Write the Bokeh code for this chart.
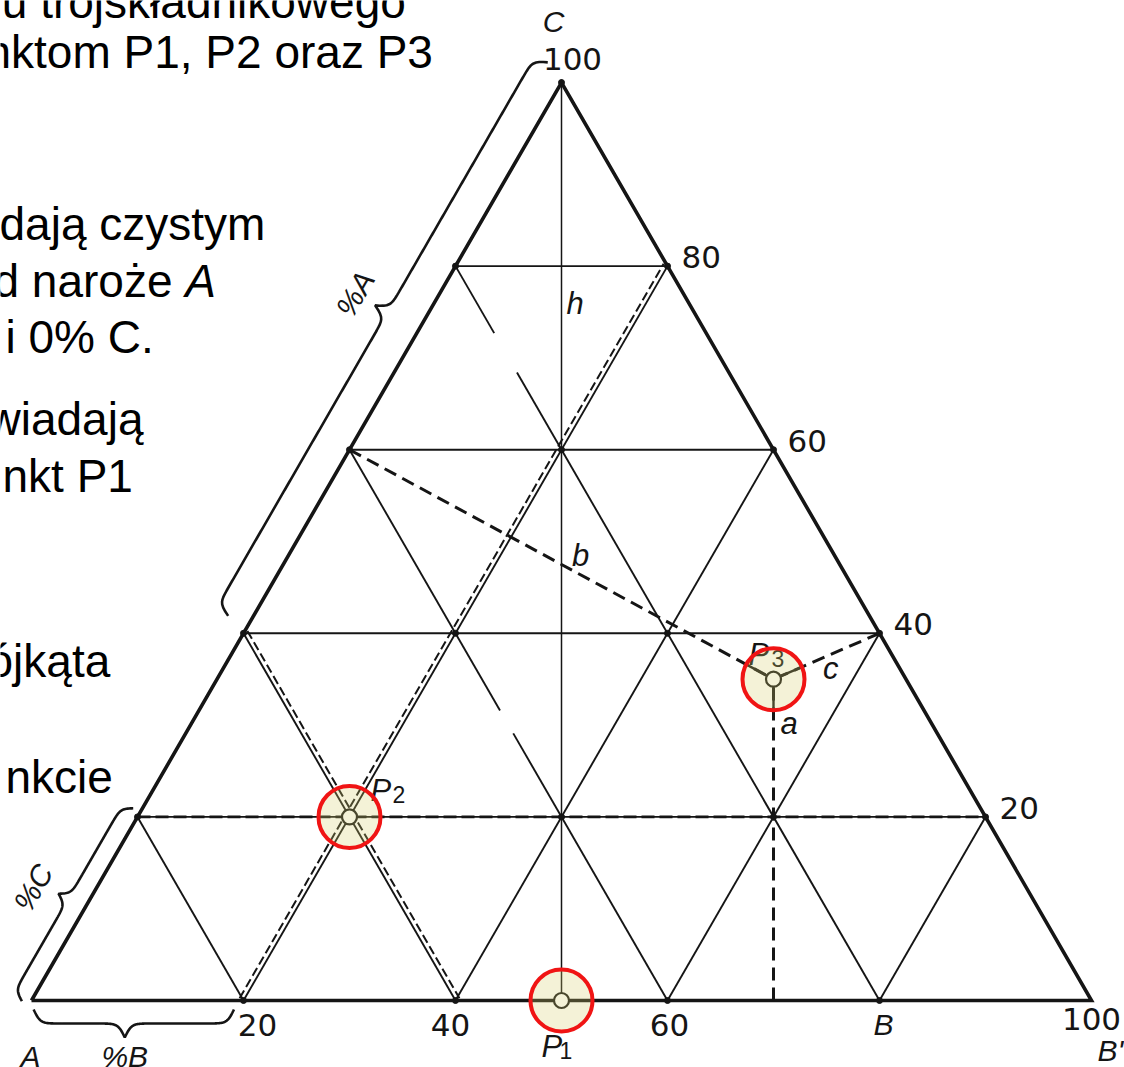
import numpy as np
from bokeh.plotting import figure
from bokeh.models import Range1d
from bokeh.core.properties import value
from bokeh.embed import file_html
from bokeh.resources import INLINE

# ---------------- data ----------------
grid_levels = [20, 40, 60, 80]                 # % grid lines
side_tick_labels = ["20", "40", "60", "80"]    # on side BC (C %)
base_num_pos = [20, 40, 60, 100]               # on side AB (B %)
base_num_labels = ["20", "40", "60", "100"]
apex_tick_label = "100"

point_names = ["1", "2", "3"]
point_a = [50.0, 60.0, 12.5]
point_b = [50.0, 20.0, 52.5]
point_c = [0.0, 20.0, 35.0]

# feet of the three construction lines from P3 (a: on AB as B%, b: on AC as C%, c: on BC as C%)
foot_a_b = 70.0
foot_b_c = 60.0
foot_c_c = 40.0

# interruptions of the printed a-lines (a level, C% range)
gap_a_levels = [20, 40]
gap_c_from = [68.4, 29.1]
gap_c_to = [72.7, 31.6]

# brace ranges along sides (%), and cusp position (%)
brace_A = (40.7, 101.0, 73.0)   # along AC, C%
brace_C = (-0.5, 20.5, 10.0)    # along AC, C%
brace_B = (0.2, 19.1, 8.8)      # along AB, B%

text_lines = ["ru trójskładnikowego", "nktom P1, P2 oraz P3", "dają czystym",
              "d naroże ", "i 0% C.", "wiadają", "nkt P1", "ójkąta", "nkcie"]
text_x_px = [-14, -15, -1, -7, 5, -13, 2, -13, 5]
text_base_px = [13, 63, 235, 292, 348, 430, 487, 672, 788]

# ---------------- layout ----------------
K = 10.6              # screen px per unit
S3 = np.sqrt(3) / 2
AX, BY = 31.0, 1000.0 # page position of corner A
W, H = 1124, 1067
BFIX = 12             # baseline correction (px, upward) for alphabetic texts
x0 = (0 - AX) / K
ytop = (BY - 0) / K
INK = "#151515"
SANS = value("Liberation Sans")
DJ = value("DejaVu Sans")


def xy(b, c):
    return (b + 0.5 * c, c * S3)


def shift(pt, dx, dy):
    return (pt[0] + dx / K, pt[1] - dy / K)


def scr(px, py):
    return ((px - AX) / K, (BY - py) / K)


p = figure(width=W, height=H, x_range=Range1d(x0, x0 + W / K),
           y_range=Range1d(ytop - H / K, ytop), output_backend="svg",
           toolbar_location=None, x_axis_type=None, y_axis_type=None,
           min_border=0, background_fill_color="white", border_fill_color="white")
p.outline_line_color = None

# ---- main text (cut off at left) ----
for t, xp, bp in zip(text_lines, text_x_px, text_base_px):
    X, Y = scr(xp, bp - BFIX)
    p.text(x=[X], y=[Y], text=[t], text_font=SANS, text_font_size="46px",
           text_baseline="alphabetic", text_align="left", text_color="black")
X, Y = scr(text_x_px[3] + 4.169 * 46, text_base_px[3] - BFIX)
p.text(x=[X], y=[Y], text=["A"], text_font=SANS, text_font_size="46px",
       text_font_style="italic", text_baseline="alphabetic", text_align="left", text_color="black")

# ---- grid ----
gxs, gys = [], []


def addseg(xs, ys, p1, p2):
    xs.append([p1[0], p2[0]])
    ys.append([p1[1], p2[1]])


for k in grid_levels:
    addseg(gxs, gys, xy(0, k), xy(100 - k, k))
    addseg(gxs, gys, xy(k, 0), xy(k, 100 - k))
    pieces = [(0.0, 100.0 - k)]
    if k in gap_a_levels:
        i = gap_a_levels.index(k)
        pieces = [(0.0, gap_c_from[i]), (gap_c_to[i], 100.0 - k)]
    for lo, hi in pieces:
        addseg(gxs, gys, xy(100 - k - lo, lo), xy(100 - k - hi, hi))
p.multi_line(gxs, gys, line_color=INK, line_width=1.9)

# altitude h
hx, hy = [], []
addseg(hx, hy, xy(50, 0), xy(0, 100))
p.multi_line(hx, hy, line_color=INK, line_width=1.5)

# double (dashed companion) lines through P2
dxs, dys = [], []
o = 4.5 / K
s1, e1 = xy(20, 0), xy(20, 80)
n1 = (-S3 * o, 0.5 * o)
addseg(dxs, dys, (s1[0] + n1[0], s1[1] + n1[1]), (e1[0] + n1[0], e1[1] + n1[1]))
s2, e2 = xy(0, 40), xy(40, 0)
n2 = (S3 * o, 0.5 * o)
addseg(dxs, dys, (s2[0] + n2[0], s2[1] + n2[1]), (e2[0] + n2[0], e2[1] + n2[1]))
p.multi_line(dxs, dys, line_color=INK, line_width=2.0, line_dash="9 4")

# dashed horizontal through P2
cx, cy = [], []
addseg(cx, cy, xy(0, point_c[1]), xy(100 - point_c[1], point_c[1]))
p.multi_line(cx, cy, line_color=INK, line_width=2.8, line_dash="13 5")

# outer triangle
tri = [xy(0, 0), xy(100, 0), xy(0, 100), xy(0, 0)]
p.line([q[0] for q in tri], [q[1] for q in tri], line_color=INK, line_width=3.6,
       line_join="miter")

# construction lines from P3
P3 = np.array(xy(point_b[2], point_c[2]))
fA = np.array(xy(foot_a_b, 0))
fB = np.array(xy(0, foot_b_c))
fC = np.array(xy(100 - foot_c_c, foot_c_c))
pxs, pys = [], []
for f in (fA, fB, fC):
    addseg(pxs, pys, f, P3)
p.multi_line(pxs, pys, line_color=INK, line_width=3.0, line_dash="13 7")
sxs, sys_ = [], []
for f in (fA, fB, fC):
    d = (f - P3) / np.hypot(*(f - P3))
    addseg(sxs, sys_, P3, P3 + d * 30 / K)
p.multi_line(sxs, sys_, line_color=INK, line_width=2.4)

# node dots
nodes = [xy(0, 100)]
for k in grid_levels:
    nodes += [xy(0, k), xy(100 - k, k), xy(k, 0)]
    for c in grid_levels:
        if k + c < 100:
            nodes.append(xy(k, c))
p.scatter([q[0] for q in nodes], [q[1] for q in nodes], size=6, color=INK)

# point markers
pts = [xy(b, c) for b, c in zip(point_b, point_c)]
px_ = [q[0] for q in pts]
py_ = [q[1] for q in pts]
p.scatter(px_, py_, size=15, fill_color="white", line_color=INK, line_width=2.2)

# point labels (P + subscript)
P_off = [(-20, 58), (21, -14), (-25, -13)]
sub_off = [(-2, 62), (43, -10), (-2, -9)]
for q, nm, po, so in zip(pts, point_names, P_off, sub_off):
    a1 = shift(q, po[0], po[1] - BFIX)
    a2 = shift(q, so[0], so[1] - BFIX)
    p.text(x=[a1[0]], y=[a1[1]], text=["P"], text_font=SANS, text_font_size="31px",
           text_font_style="italic", text_baseline="alphabetic", text_color=INK)
    p.text(x=[a2[0]], y=[a2[1]], text=[nm], text_font=SANS, text_font_size="23px",
           text_baseline="alphabetic", text_color=INK)

# highlight circles
p.scatter(px_, py_, size=62, fill_color="#d6cf6a", fill_alpha=0.27,
          line_color="#f01414", line_width=4)

# ---- braces ----
def brace(p_start, p_end, normal, base_px, amp_px, frac, beta=0.3, n=150):
    p0 = np.array(p_start) * K
    p1 = np.array(p_end) * K
    d = p1 - p0
    L = np.hypot(*d)
    u = d / L
    nrm = np.array(normal)

    def half(Lh):
        x = np.linspace(0, Lh, n)
        return x, 1 / (1 + np.exp(-beta * x)) + 1 / (1 + np.exp(-beta * (x - Lh))) - 0.5

    L1 = frac * L
    x1, y1 = half(L1)
    x2, y2 = half(L - L1)
    s = np.concatenate([x1, L - x2[::-1]])
    off = base_px + amp_px * np.concatenate([y1, y2[::-1]])
    q = p0[None, :] + s[:, None] * u[None, :] + off[:, None] * nrm[None, :]
    return list(q[:, 0] / K), list(q[:, 1] / K)


nAC = (-S3, 0.5)
nAB = (0.0, -1.0)
bxs, bys = [], []
for (lo, hi, cu), base, amp in [(brace_A, 22, 28), (brace_C, 8, 22)]:
    bx, by = brace(xy(0, lo), xy(0, hi), nAC, base, amp, (cu - lo) / (hi - lo))
    bxs.append(bx); bys.append(by)
lo, hi, cu = brace_B
bx, by = brace(xy(lo, 0), xy(hi, 0), nAB, 9, 28, (cu - lo) / (hi - lo))
bxs.append(bx); bys.append(by)
p.multi_line(bxs, bys, line_color=INK, line_width=2.6)

# brace labels
la = xy(0, brace_A[2])
la = (la[0] + nAC[0] * 73 / K, la[1] + nAC[1] * 73 / K)
lc = xy(0, 9.3)
lc = (lc[0] + nAC[0] * 55 / K, lc[1] + nAC[1] * 55 / K)
p.text(x=[la[0], lc[0]], y=[la[1], lc[1]], text=["%A", "%C"], angle=np.pi / 3,
       text_font=SANS, text_font_size="30px", text_font_style="italic",
       text_align="center", text_baseline="middle", text_color=INK)
lb = shift(xy(brace_B[2], 0), 0, 68 - BFIX)
p.text(x=[lb[0]], y=[lb[1]], text=["%B"], text_font=SANS, text_font_size="30px",
       text_font_style="italic", text_align="center", text_baseline="alphabetic", text_color=INK)

# ---- tick labels ----
for k, lab in zip(grid_levels, side_tick_labels):
    q = shift(xy(100 - k, k), 14, 3 - BFIX)
    p.text(x=[q[0]], y=[q[1]], text=[lab], text_font=DJ, text_font_size="31px",
           text_baseline="alphabetic", text_align="left", text_color=INK)
q = shift(xy(0, 100), 11, -12 - BFIX)
p.text(x=[q[0]], y=[q[1]], text=[apex_tick_label], text_font=DJ, text_font_size="31px",
       text_baseline="alphabetic", text_align="center", text_color=INK)
base_dx = [14, -5, 2, 0]
base_dy = [36, 36, 36, 30]
for b, lab, dx, dy in zip(base_num_pos, base_num_labels, base_dx, base_dy):
    q = shift(xy(b, 0), dx, dy - BFIX)
    p.text(x=[q[0]], y=[q[1]], text=[lab], text_font=DJ, text_font_size="31px",
           text_baseline="alphabetic", text_align="center", text_color=INK)

# corner letters
corner = [(shift(xy(0, 100), -8, -49 - BFIX), "C", "center"),
          (shift(xy(80, 0), 4, 36 - BFIX), "B", "center"),
          (shift(xy(100, 0), 6, 62 - BFIX), "B'", "left"),
          (shift(xy(0, 0), -1, 68 - BFIX), "A", "center")]
for q, lab, al in corner:
    p.text(x=[q[0]], y=[q[1]], text=[lab], text_font=SANS, text_font_size="30px",
           text_font_style="italic", text_baseline="alphabetic", text_align=al, text_color=INK)

# construction line letters
h_c = 74.6
lh = shift(xy(50 - h_c / 2, h_c), 5, -BFIX)
t_b = fB + 0.545 * (P3 - fB)
lbb = shift(t_b, 0, -19)
t_c = P3 + 0.54 * (fC - P3)
lcc = shift(t_c, 0, 14)
laa = shift(P3, 7, 56 - BFIX)
p.text(x=[lh[0], laa[0]], y=[lh[1], laa[1]], text=["h", "a"], text_font=SANS,
       text_font_size="31px", text_font_style="italic", text_baseline="alphabetic",
       text_align="left", text_color=INK)
p.text(x=[lbb[0], lcc[0]], y=[lbb[1], lcc[1]], text=["b", "c"], text_font=SANS,
       text_font_size="31px", text_font_style="italic", text_baseline="middle",
       text_align="center", text_color=INK)

open("out.html", "w").write(file_html(p, INLINE))
